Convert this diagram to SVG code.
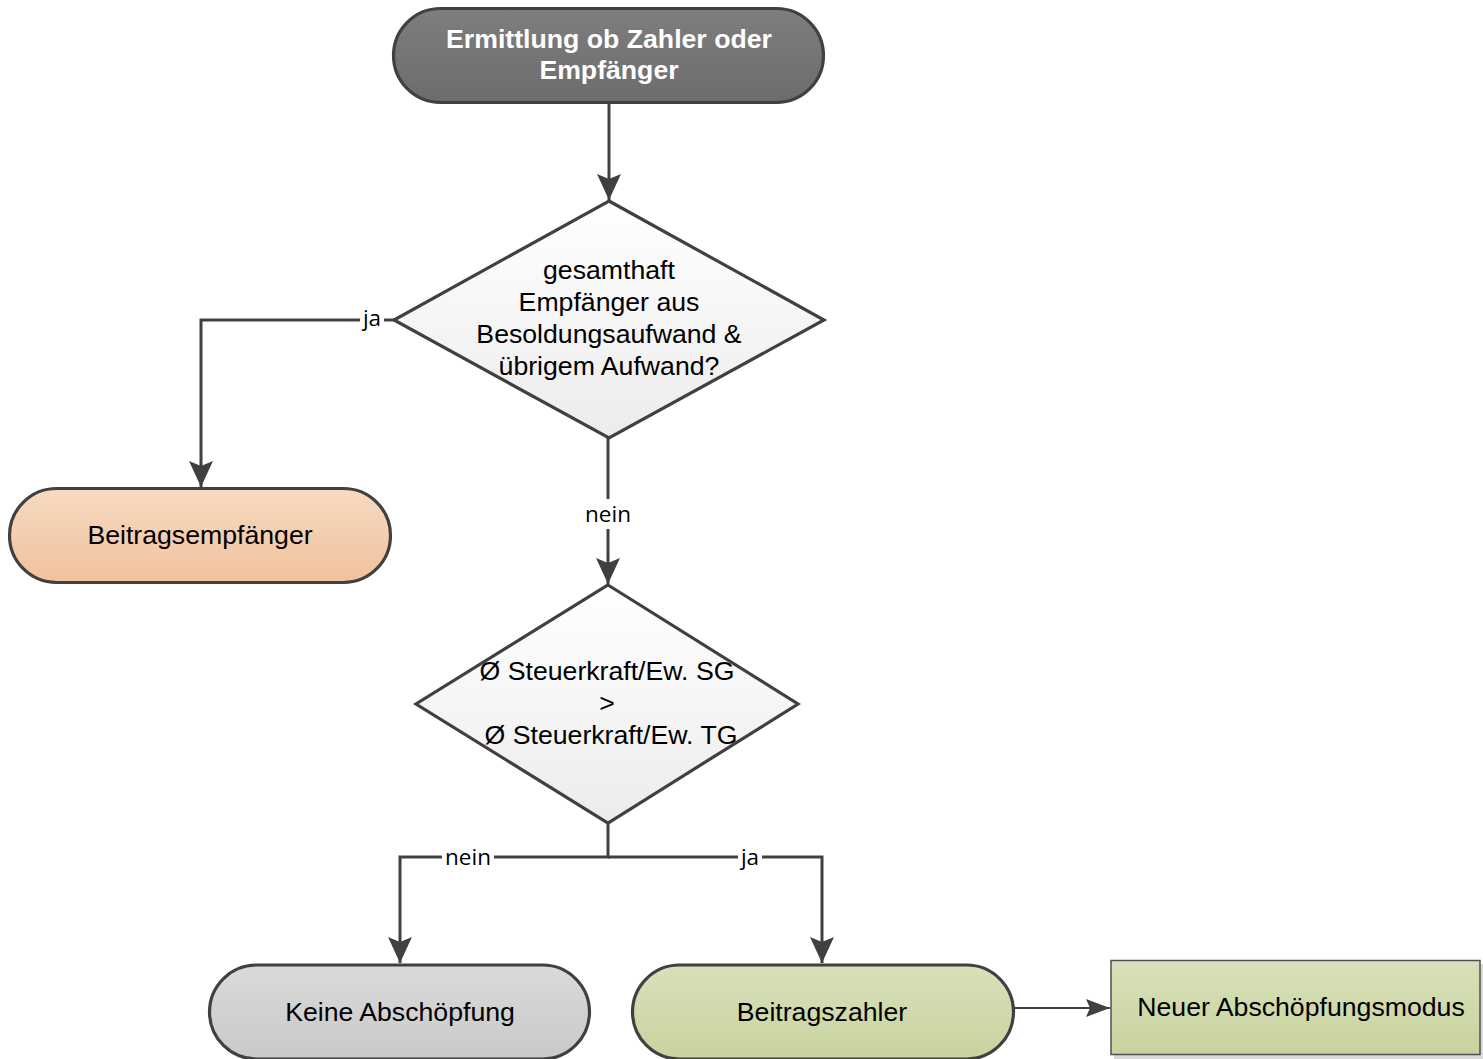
<svg xmlns="http://www.w3.org/2000/svg" width="1483" height="1059" viewBox="0 0 1483 1059">
<defs>
<linearGradient id="gDark" x1="0" y1="0" x2="0" y2="1"><stop offset="0" stop-color="#7e7e7e"/><stop offset="1" stop-color="#6c6c6c"/></linearGradient>
<linearGradient id="gDia" x1="0" y1="0" x2="0" y2="1"><stop offset="0" stop-color="#ffffff"/><stop offset="1" stop-color="#ececec"/></linearGradient>
<linearGradient id="gPeach" x1="0" y1="0" x2="0" y2="1"><stop offset="0" stop-color="#f7dac2"/><stop offset="1" stop-color="#f1c29c"/></linearGradient>
<linearGradient id="gGray" x1="0" y1="0" x2="0" y2="1"><stop offset="0" stop-color="#dadada"/><stop offset="1" stop-color="#c9c9c9"/></linearGradient>
<linearGradient id="gGreen" x1="0" y1="0" x2="0" y2="1"><stop offset="0" stop-color="#d9e0bb"/><stop offset="1" stop-color="#c8d39e"/></linearGradient>
<marker id="arr" markerUnits="userSpaceOnUse" markerWidth="28" markerHeight="26" refX="26" refY="12" orient="auto">
<path d="M0,0 L26,12 L0,24 L5,12 Z" fill="#404040"/>
</marker>
<marker id="arrS" markerUnits="userSpaceOnUse" markerWidth="26" markerHeight="20" refX="24" refY="9" orient="auto">
<path d="M0,0 L24,9 L0,18 L4,9 Z" fill="#404040"/>
</marker>
</defs>
<style>
.shape{stroke:#404040;stroke-width:3.2}
.t{font-family:"Liberation Sans",Arial,sans-serif;font-size:26.67px;text-anchor:middle;fill:#000}
.tb{font-family:"Liberation Sans",Arial,sans-serif;font-size:26.67px;font-weight:bold;text-anchor:middle;fill:#fff}
.conn{fill:none;stroke:#404040;stroke-width:3}
.lbl{font-family:"Open Sans",sans-serif;font-size:22.5px;text-anchor:middle;fill:#000}
.lblbg{fill:#fff}
</style>
<rect width="1483" height="1059" fill="#fff"/>

<g id="connectors">
<path class="conn" d="M609,103 V200" marker-end="url(#arr)"/>
<path class="conn" d="M394,320 H201 V487" marker-end="url(#arr)"/>
<path class="conn" d="M608,438 V584" marker-end="url(#arr)"/>
<path class="conn" d="M608,823 V857 H400 V963" marker-end="url(#arr)"/>
<path class="conn" d="M608,857 H822 V963" marker-end="url(#arr)"/>
<path d="M1014,1008 H1110" fill="none" stroke="#404040" stroke-width="2" marker-end="url(#arrS)"/>
<rect class="lblbg" x="360" y="305" width="24" height="28"/>
<text class="lbl" x="372" y="326">ja</text>
<rect class="lblbg" x="582" y="499" width="52" height="30"/>
<text class="lbl" x="608" y="522">nein</text>
<rect class="lblbg" x="442" y="844" width="52" height="28"/>
<text class="lbl" x="468" y="865">nein</text>
<rect class="lblbg" x="738" y="844" width="24" height="28"/>
<text class="lbl" x="750" y="865">ja</text>
</g>

<g id="n_start">
<rect class="shape" x="393.5" y="8.5" width="430" height="94" rx="47" fill="url(#gDark)"/>
<text class="tb" x="609" y="48">Ermittlung ob Zahler oder</text>
<text class="tb" x="609" y="79">Empfänger</text>
</g>

<g id="d_empfaenger">
<polygon class="shape" points="609,201 824,320 609,438 394,320" fill="url(#gDia)"/>
<text class="t" x="609" y="279">gesamthaft</text>
<text class="t" x="609" y="311">Empfänger aus</text>
<text class="t" x="609" y="343">Besoldungsaufwand &amp;</text>
<text class="t" x="609" y="375">übrigem Aufwand?</text>
</g>

<g id="n_beitragsempfaenger">
<rect class="shape" x="9.5" y="488.5" width="381" height="94" rx="47" fill="url(#gPeach)"/>
<text class="t" x="200" y="544">Beitragsempfänger</text>
</g>

<g id="d_steuerkraft">
<polygon class="shape" points="608,585 798,704 608,823 416,704" fill="url(#gDia)"/>
<text class="t" x="607" y="680">Ø Steuerkraft/Ew. SG</text>
<text class="t" x="607" y="712">&gt;</text>
<text class="t" x="611" y="744">Ø Steuerkraft/Ew. TG</text>
</g>

<g id="n_keine">
<rect class="shape" x="209.5" y="965" width="380" height="94" rx="47" fill="url(#gGray)"/>
<text class="t" x="400" y="1021">Keine Abschöpfung</text>
</g>

<g id="n_zahler">
<rect class="shape" x="632.5" y="965" width="381" height="94" rx="47" fill="url(#gGreen)"/>
<text class="t" x="822" y="1021">Beitragszahler</text>
</g>

<g id="n_modus">
<rect x="1114" y="964" width="370" height="95" fill="#d9d9d9"/>
<rect x="1111" y="960.5" width="369" height="94" fill="url(#gGreen)" stroke="#505050" stroke-width="1.5"/>
<text class="t" x="1301" y="1016">Neuer Abschöpfungsmodus</text>
</g>
</svg>
